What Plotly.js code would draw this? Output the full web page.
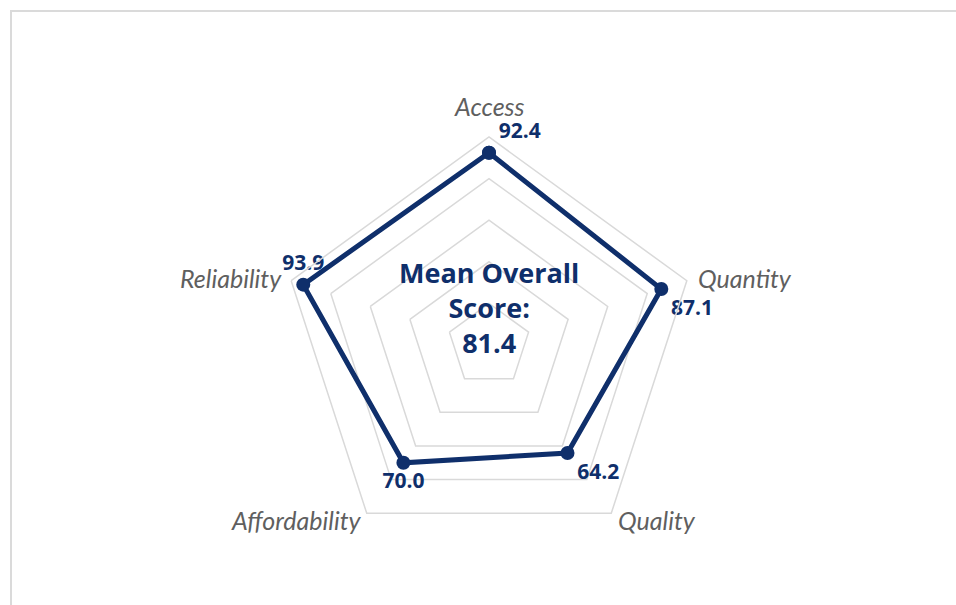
<!DOCTYPE html>
<html>
<head>
<meta charset="utf-8">
<script src="https://cdn.plot.ly/plotly-3.0.1.min.js"></script>
<style>html,body{margin:0;padding:0;background:#fff;}#chart{width:956px;height:605px;}</style>
</head>
<body>
<div id="chart"></div>
<script>
const categories = ["Access", "Quantity", "Quality", "Affordability", "Reliability"];
const scores = [92.4, 87.1, 64.2, 70.0, 93.9];
const scoreLabels = ["92.4", "87.1", "64.2", "70.0", "93.9"];
const meanOverall = 81.4;

const navy = "#0f2f6b";
const gridGray = "#d9d9d9";
const W = 956, H = 605;

const trace = {
  type: "scatterpolar",
  r: scores.concat([scores[0]]),
  theta: categories.concat([categories[0]]),
  mode: "lines+markers+text",
  text: scoreLabels.map(s => "<b>" + s + "</b>").concat([""]),
  textposition: ["top right", "bottom right", "bottom right", "bottom center", "top center", "top right"],
  textfont: {family: "'Open Sans', Lato, sans-serif", size: 21, color: navy},
  line: {color: navy, width: 5},
  marker: {color: navy, size: 14},
  cliponaxis: false,
  hoverinfo: "skip",
  showlegend: false
};

// category label placement (pixel anchor next to each outer vertex)
const catLabelPos = [
  {x: 489, y: 106, xanchor: "center"},
  {x: 696, y: 278, xanchor: "left"},
  {x: 616, y: 520, xanchor: "left"},
  {x: 364, y: 520, xanchor: "right"},
  {x: 284, y: 278, xanchor: "right"}
];

const catAnnotations = categories.map((c, i) => ({
  xref: "paper", yref: "paper",
  x: catLabelPos[i].x / W, y: 1 - catLabelPos[i].y / H,
  xanchor: catLabelPos[i].xanchor, yanchor: "middle",
  showarrow: false,
  text: c,
  font: {family: "Lato, 'Open Sans', sans-serif", size: 25, color: "#5f5f5f", style: "italic"}
}));

const layout = {
  width: W,
  height: H,
  margin: {l: 0, r: 0, t: 0, b: 0},
  paper_bgcolor: "#ffffff",
  plot_bgcolor: "#ffffff",
  showlegend: false,
  polar: {
    domain: {x: [281/W, 697/W], y: [1 - 553/H, 1 - 137/H]},
    gridshape: "linear",
    bgcolor: "rgba(0,0,0,0)",
    radialaxis: {
      range: [0, 100],
      tickvals: [20, 40, 60, 80],
      showticklabels: false,
      ticks: "",
      showline: false,
      gridcolor: gridGray,
      gridwidth: 1.5
    },
    angularaxis: {
      rotation: 90,
      direction: "clockwise",
      showgrid: false,
      showline: true,
      linecolor: gridGray,
      linewidth: 1.5,
      ticks: "",
      showticklabels: false
    }
  },
  shapes: [{
    type: "rect", xref: "paper", yref: "paper",
    x0: 11/W, x1: 1.05, y0: -0.05, y1: 1 - 11/H,
    line: {color: "#dadada", width: 2}, fillcolor: "rgba(0,0,0,0)", layer: "below"
  }],
  annotations: catAnnotations.concat([{
    xref: "paper", yref: "paper",
    x: 489/W, y: 1 - 308/H,
    xanchor: "center", yanchor: "middle",
    showarrow: false,
    text: "<b>Mean Overall</b><br><b>Score:</b><br><b>" + meanOverall.toFixed(1) + "</b>",
    font: {family: "'Open Sans', Lato, sans-serif", size: 27, color: navy},
    align: "center"
  }])
};

Plotly.newPlot("chart", [trace], layout, {displayModeBar: false, staticPlot: true});
</script>
</body>
</html>
